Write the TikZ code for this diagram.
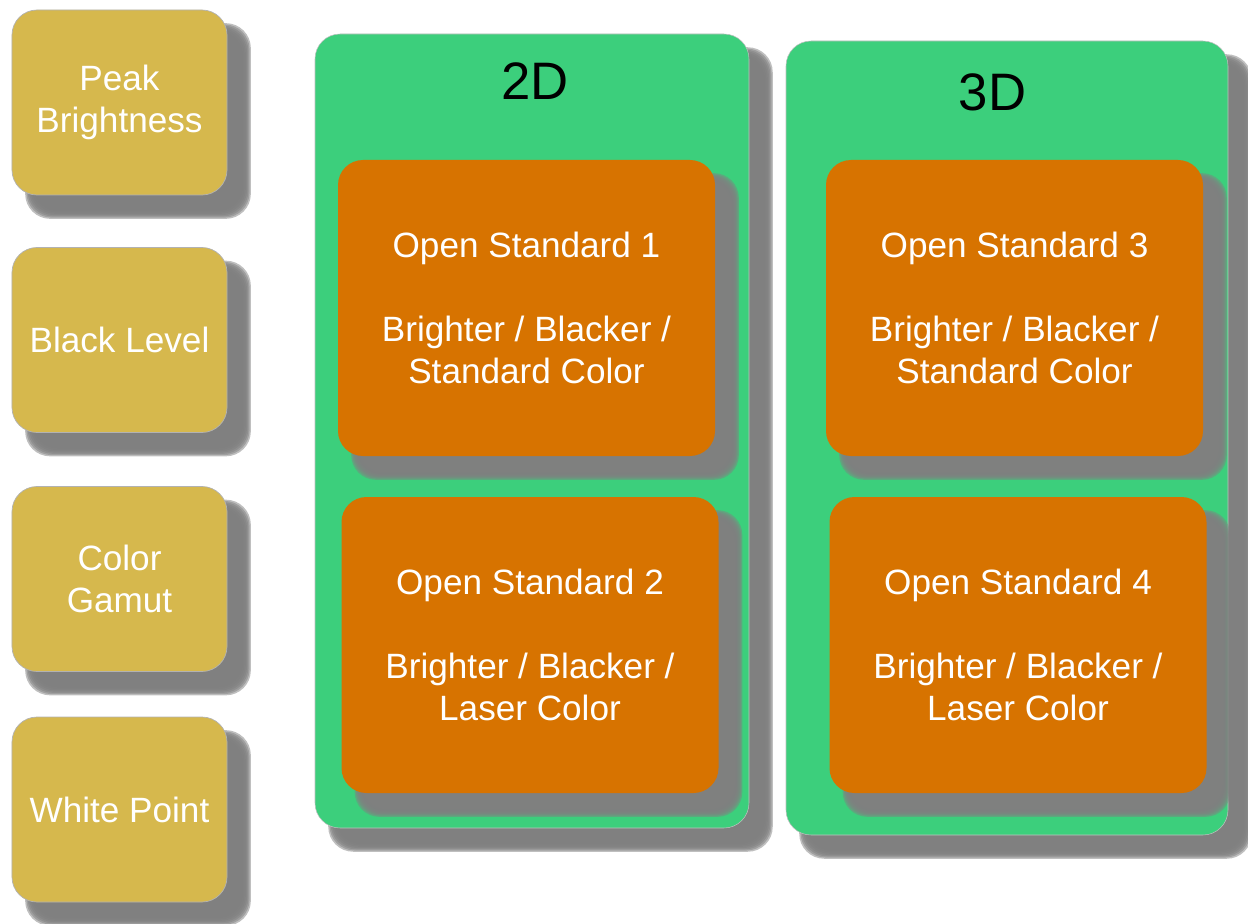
\documentclass[tikz,border=0pt]{standalone}
\usepackage{fontspec}
\setmainfont{Liberation Sans}
\usepackage{tikz}
\usetikzlibrary{positioning,calc}
\usepackage{xcolor}
\definecolor{fgold}{HTML}{D6B84D}
\definecolor{fgreen}{HTML}{3CCF7C}
\definecolor{forange}{HTML}{D77300}
\pgfdeclarelayer{shadeback}
\pgfdeclarelayer{back}
\pgfdeclarelayer{shademid}
\pgfsetlayers{shadeback,back,shademid,main}
\tikzset{
  metric/.style  = {fill=fgold, draw=black!30, line width=0.4pt, rounded corners=0.5cm,
                    minimum width=4.3cm, minimum height=3.7cm, inner sep=0pt,
                    align=center, text=white, font=\fontsize{20pt}{24pt}\selectfont},
  group/.style   = {fill=fgreen, draw=black!25, line width=0.3pt, rounded corners=0.5cm,
                    minimum height=15.88cm, inner sep=0pt},
  stdbox/.style  = {fill=forange, rounded corners=0.5cm, minimum width=7.54cm,
                    minimum height=5.92cm, inner sep=0pt, align=center, text=white,
                    font=\fontsize{20pt}{24pt}\selectfont},
  grouptitle/.style = {font=\fontsize{30pt}{36pt}\selectfont, text=black},
  shadowfill/.style = {fill=black!50, opacity=0.5, rounded corners=0.5cm},
}
\newcommand{\dropshadow}[1]{%
  \foreach \k in {-4,...,4}{%
    \fill[shadowfill] ($(#1.south west)+(0.37+\k*0.025,-0.37+\k*0.025)$)
      rectangle ($(#1.north east)+(0.37-\k*0.025,-0.37-\k*0.025)$);}}

\begin{document}
\begin{tikzpicture}[x=1cm,y=1cm]
\useasboundingbox (0,0) rectangle (24.96,-18.48);
% ---- picture quality metrics ----
\node[metric] (PB) at (2.39,-2.05) {\raisebox{-0.08cm}{Peak}\\\raisebox{-0.08cm}{Brightness}};
\node[metric] (BL) at (2.39,-6.80) {Black Level};
\node[metric] (CG) at (2.39,-11.58) {Color\\Gamut};
\node[metric] (WP) at (2.39,-16.19) {White Point};
% ---- 2D and 3D groups ----
\begin{pgfonlayer}{back}
\node[group,minimum width=8.68cm] (G2) at (10.64,-8.62) {};
\node[group,minimum width=8.84cm] (G3) at (20.14,-8.76) {};
\end{pgfonlayer}
\node[grouptitle] (T2) at (10.70,-1.62) {2D};
\node[grouptitle] (T3) at (19.85,-1.84) {3D};
% ---- open standards ----
\node[stdbox] (O1) at (10.53,-6.16) {Open Standard 1\\[0.84cm]Brighter / Blacker /\\Standard Color};
\node[stdbox] (O2) at (10.60,-12.90) {Open Standard 2\\[0.84cm]Brighter / Blacker /\\Laser Color};
\node[stdbox] (O3) at (20.29,-6.16) {Open Standard 3\\[0.84cm]Brighter / Blacker /\\Standard Color};
\node[stdbox] (O4) at (20.36,-12.90) {Open Standard 4\\[0.84cm]Brighter / Blacker /\\Laser Color};
% ---- drop shadows ----
\begin{pgfonlayer}{shadeback}
\dropshadow{G2}
\dropshadow{G3}
\end{pgfonlayer}
\begin{pgfonlayer}{shademid}
\foreach \n in {PB,BL,CG,WP,O1,O2,O3,O4}{\dropshadow{\n}}
\end{pgfonlayer}
\end{tikzpicture}
\end{document}
